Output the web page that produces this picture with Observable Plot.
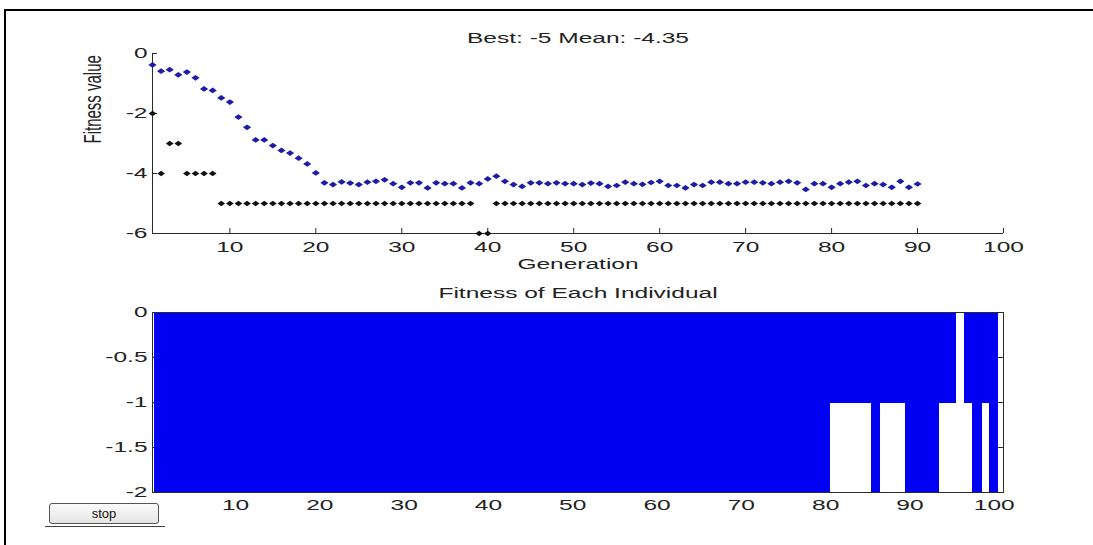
<!DOCTYPE html>
<html>
<head>
<meta charset="utf-8">
<script src="https://cdn.jsdelivr.net/npm/d3@7"></script>
<script src="https://cdn.jsdelivr.net/npm/@observablehq/plot@0.6"></script>
<style>
  body { margin: 0; background: #fff; }
  #root { position: relative; width: 1093px; height: 545px; overflow: hidden; background: #fff; font-family: "Liberation Sans", Arial, sans-serif; }
  #frame { position: absolute; left: 4px; top: 9px; width: 1200px; height: 600px; border-left: 2px solid #000; border-top: 2px solid #000; }
  #top, #bottom { position: absolute; left: 0; }
  #top { top: 0; }
  #bottom { top: 270px; }
  #stop { position: absolute; left: 49px; top: 503px; width: 110px; height: 21px; box-sizing: border-box;
          border: 1px solid #555; border-radius: 3px; background: linear-gradient(#fbfbfb, #e4e4e4);
          font: 13px "Liberation Sans", Arial, sans-serif; color: #111; text-align: center; line-height: 19px; }
  #stopline { position: absolute; left: 45px; top: 526px; width: 120px; height: 1px; background: #444; }
</style>
</head>
<body>
<div id="root">
  <div id="frame"></div>
  <div id="top"></div>
  <div id="bottom"></div>
  <div id="stop">stop</div>
  <div id="stopline"></div>
</div>
<script>
// ---- data ----
const titleText = "Best: -5 Mean: -4.35";
const generations = d3.range(1, 91);
const bestFitness = [
  -2, -4, -3, -3, -4, -4, -4, -4, -5, -5,
  -5, -5, -5, -5, -5, -5, -5, -5, -5, -5,
  -5, -5, -5, -5, -5, -5, -5, -5, -5, -5,
  -5, -5, -5, -5, -5, -5, -5, -5, -6, -6,
  -5, -5, -5, -5, -5, -5, -5, -5, -5, -5,
  -5, -5, -5, -5, -5, -5, -5, -5, -5, -5,
  -5, -5, -5, -5, -5, -5, -5, -5, -5, -5,
  -5, -5, -5, -5, -5, -5, -5, -5, -5, -5,
  -5, -5, -5, -5, -5, -5, -5, -5, -5, -5
];
const meanFitness = [
  -0.38, -0.59, -0.54, -0.71, -0.62, -0.81, -1.18, -1.23, -1.48, -1.62,
  -2.12, -2.46, -2.88, -2.88, -3.07, -3.23, -3.32, -3.49, -3.68, -3.98,
  -4.31, -4.37, -4.28, -4.32, -4.37, -4.29, -4.26, -4.21, -4.34, -4.46,
  -4.31, -4.31, -4.48, -4.31, -4.34, -4.34, -4.48, -4.31, -4.34, -4.18,
  -4.09, -4.26, -4.37, -4.43, -4.31, -4.31, -4.34, -4.31, -4.34, -4.34,
  -4.37, -4.32, -4.34, -4.43, -4.40, -4.29, -4.34, -4.36, -4.30, -4.26,
  -4.40, -4.40, -4.48, -4.37, -4.40, -4.29, -4.29, -4.34, -4.34, -4.29,
  -4.29, -4.31, -4.34, -4.29, -4.26, -4.31, -4.53, -4.34, -4.34, -4.46,
  -4.34, -4.29, -4.26, -4.40, -4.34, -4.37, -4.46, -4.26, -4.46, -4.35
];
const genTicks = [10, 20, 30, 40, 50, 60, 70, 80, 90, 100];
const fitTicks = [0, -2, -4, -6];

const individuals = d3.range(1, 101);
const individualScores = [
  -2, -2, -2, -2, -2, -2, -2, -2, -2, -2,
  -2, -2, -2, -2, -2, -2, -2, -2, -2, -2,
  -2, -2, -2, -2, -2, -2, -2, -2, -2, -2,
  -2, -2, -2, -2, -2, -2, -2, -2, -2, -2,
  -2, -2, -2, -2, -2, -2, -2, -2, -2, -2,
  -2, -2, -2, -2, -2, -2, -2, -2, -2, -2,
  -2, -2, -2, -2, -2, -2, -2, -2, -2, -2,
  -2, -2, -2, -2, -2, -2, -2, -2, -2, -2,
  -1, -1, -1, -1, -1, -2, -1, -1, -1, -2,
  -2, -2, -2, -1, -1,  0, -1, -2, -1, -2
];
const indivTicks = [10, 20, 30, 40, 50, 60, 70, 80, 90, 100];
const scoreTicks = [0, -0.5, -1, -1.5, -2];

// ---- styles ----
const axisColor = "#2a2a2a";
const meanColor = "#1c1ca6";
const bestColor = "#111111";
const barColor = "#0000f2";
const fontStyle = { fontFamily: "'Liberation Sans', Arial, sans-serif", fontSize: "14px", color: "#222", background: "transparent", overflow: "visible" };
const fmt = d => String(d);

// flat, wide diamond like MATLAB's '.' marker in the screenshot
const wideDiamond = {
  draw(context, size) {
    const h = Math.sqrt(size) * 0.5;
    const w = h * 1.45;
    context.moveTo(0, -h);
    context.lineTo(w, 0);
    context.lineTo(0, h);
    context.lineTo(-w, 0);
    context.closePath();
  }
};

const meanData = generations.map((g, i) => ({ g, v: meanFitness[i] }));
const bestData = generations.map((g, i) => ({ g, v: bestFitness[i] }));
const indivData = individuals.map((k, i) => ({ k, s: individualScores[i] }));

// ---- top panel ----
const topW = 1093, topH = 280, tML = 152, tMR = 90, tMT = 53, tMB = 47;
const tFW = topW - tML - tMR, tFH = topH - tMT - tMB;
const topPlot = Plot.plot({
  width: topW, height: topH,
  marginLeft: tML, marginRight: tMR, marginTop: tMT, marginBottom: tMB,
  style: fontStyle,
  x: { domain: [1, 100], ticks: genTicks, tickSize: 0, tickPadding: 9, label: null, tickFormat: fmt },
  y: { domain: [-6, 0], ticks: fitTicks, tickSize: 0, tickPadding: 5, label: null, tickFormat: fmt },
  marks: [
    Plot.tickX(genTicks, { x: d => d, insetTop: tFH - 5, stroke: axisColor }),
    Plot.tickY(fitTicks, { y: d => d, insetRight: tFW - 5, stroke: axisColor }),
    Plot.ruleY([-6], { stroke: axisColor }),
    Plot.ruleX([1], { stroke: axisColor }),
    Plot.dot(meanData, { x: "g", y: "v", symbol: wideDiamond, r: 3.2, fill: meanColor, stroke: "none" }),
    Plot.dot(bestData, { x: "g", y: "v", symbol: wideDiamond, r: 3.0, fill: bestColor, stroke: "none" }),
    Plot.text([titleText], { text: d => d, frameAnchor: "top", dy: -20, fill: "#222" }),
    Plot.text(["Generation"], { text: d => d, frameAnchor: "bottom", dy: 35, fill: "#222" }),
    Plot.text(["Fitness value"], { text: d => d, frameAnchor: "left", dx: -59, rotate: -90, fill: "#222", fontSize: 15 })
  ]
});
document.getElementById("top").appendChild(topPlot);

// ---- bottom panel ----
const botW = 1093, botH = 275, bML = 152, bMR = 90, bMT = 42, bMB = 53;
const bFW = botW - bML - bMR, bFH = botH - bMT - bMB;
const botPlot = Plot.plot({
  width: botW, height: botH,
  marginLeft: bML, marginRight: bMR, marginTop: bMT, marginBottom: bMB,
  style: fontStyle,
  x: { domain: [0.15, 101.1], ticks: indivTicks, tickSize: 0, tickPadding: 8, label: null, tickFormat: fmt },
  y: { domain: [-2, 0], ticks: scoreTicks, tickSize: 0, tickPadding: 5, label: null, tickFormat: fmt },
  marks: [
    Plot.tickY(scoreTicks, { y: d => d, insetLeft: bFW - 5, stroke: axisColor }),
    Plot.tickY(scoreTicks, { y: d => d, insetRight: bFW - 5, stroke: axisColor }),
    Plot.tickX(indivTicks, { x: d => d, insetTop: bFH - 5, stroke: axisColor }),
    Plot.tickX(indivTicks, { x: d => d, insetBottom: bFH - 5, stroke: axisColor }),
    Plot.rectY(indivData, { x1: d => d.k - 0.5, x2: d => d.k + 0.5, y1: 0, y2: "s", fill: barColor, stroke: barColor, strokeWidth: 1, shapeRendering: "crispEdges" }),
    Plot.frame({ stroke: axisColor }),
    Plot.text(["Fitness of Each Individual"], { text: d => d, frameAnchor: "top", dy: -24, fill: "#222" })
  ]
});
document.getElementById("bottom").appendChild(botPlot);

// ---- MATLAB-like horizontally stretched text ----
function stretchText(svg, k) {
  svg.querySelectorAll("text").forEach(t => {
    if (t.textContent === "Fitness value") {
      const tr = t.getAttribute("transform") || "";
      t.setAttribute("transform", tr + " scale(1,1.6)");
      return;
    }
    const len = t.getComputedTextLength();
    if (len > 0) {
      t.setAttribute("textLength", (len * k).toFixed(1));
      t.setAttribute("lengthAdjust", "spacingAndGlyphs");
    }
  });
}
stretchText(topPlot, 1.75);
stretchText(botPlot, 1.75);
</script>
</body>
</html>
